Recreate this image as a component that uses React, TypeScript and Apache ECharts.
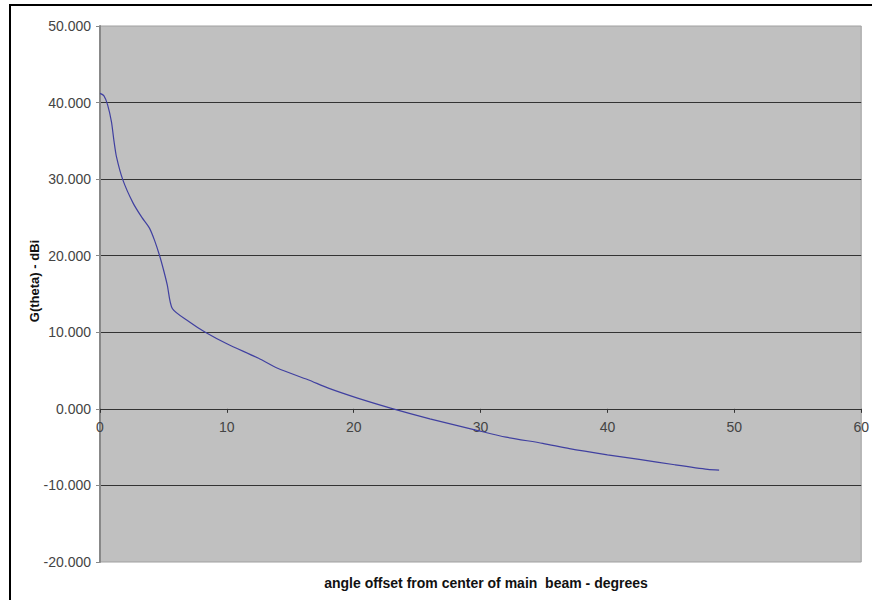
import React, { useEffect, useRef } from "react";
import * as echarts from "echarts";

const angles = [0, 0.3, 0.6, 0.9, 1.1, 1.3, 1.8, 2.6, 3.3, 3.9, 4.3, 4.7, 5.0, 5.3, 5.7, 7, 8.3, 10, 12.5, 14, 16.4, 18, 20.3, 22.9, 26, 29.7, 32, 34.9, 37, 40, 42.5, 45.3, 47.9, 48.8];
const gains = [41.2, 40.9, 39.7, 37.5, 35.0, 32.9, 29.9, 26.9, 25.0, 23.6, 22.0, 20.0, 18.2, 16.2, 13.1, 11.4, 10.0, 8.5, 6.6, 5.3, 3.8, 2.7, 1.4, 0.1, -1.3, -2.8, -3.7, -4.5, -5.2, -6.0, -6.6, -7.3, -7.9, -8.0];
const xTitle = "angle offset from center of main  beam - degrees";
const yTitle = "G(theta) - dBi";

export default function App() {
  const ref = useRef<HTMLDivElement>(null);
  useEffect(() => {
    if (!ref.current) return;
    const chart = echarts.init(ref.current, undefined, { renderer: "svg" });
    const font = "Liberation Sans, Arial, sans-serif";
    const plotH = 536;
    const yMin = -20;
    const yMax = 50;
    const zeroOffset = -(plotH * (0 - yMin)) / (yMax - yMin);
    chart.setOption({
      animation: false,
      grid: {
        left: 100,
        top: 26,
        width: 768,
        height: plotH,
        show: true,
        backgroundColor: "#c0c0c0",
        borderColor: "#a0a0a0",
        borderWidth: 1,
      },
      xAxis: {
        type: "value",
        min: 0,
        max: 60,
        interval: 10,
        offset: zeroOffset,
        axisLine: { onZero: false, lineStyle: { color: "#333", width: 1 } },
        axisTick: { show: true, length: 4, lineStyle: { color: "#333" } },
        axisLabel: { color: "#444", fontSize: 14, fontFamily: font, margin: 11 },
        splitLine: { show: false },
      },
      yAxis: {
        type: "value",
        min: yMin,
        max: yMax,
        interval: 10,
        axisLine: { show: true, onZero: false, lineStyle: { color: "#888", width: 2 } },
        axisTick: { show: true, length: 4, lineStyle: { color: "#888" } },
        axisLabel: {
          color: "#444",
          fontSize: 14,
          fontFamily: font,
          margin: 9,
          formatter: (v: number) => v.toFixed(3),
        },
        splitLine: { show: true, showMinLine: false, showMaxLine: false, lineStyle: { color: "#333", width: 1 } },
      },
      graphic: [
        {
          type: "rect",
          shape: { x: 10, y: 5, width: 900, height: 700 },
          style: { fill: "none", stroke: "#000", lineWidth: 2 },
          silent: true,
        },
        {
          type: "text",
          x: 486,
          y: 583,
          style: {
            text: xTitle,
            fill: "#111",
            font: `bold 14px ${font}`,
            textAlign: "center",
            textVerticalAlign: "middle",
          },
        },
        {
          type: "text",
          x: 34,
          y: 281,
          rotation: Math.PI / 2,
          style: {
            text: yTitle,
            fill: "#111",
            font: `bold 13px ${font}`,
            textAlign: "center",
            textVerticalAlign: "middle",
          },
        },
      ],
      series: [
        {
          type: "line",
          data: angles.map((a, i) => [a, gains[i]]),
          showSymbol: false,
          smooth: 0.25,
          lineStyle: { color: "#4040a0", width: 1.2 },
        },
      ],
    });
    return () => chart.dispose();
  }, []);
  return <div ref={ref} style={{ position: "absolute", left: 0, top: 0, width: 872, height: 600 }} />;
}
